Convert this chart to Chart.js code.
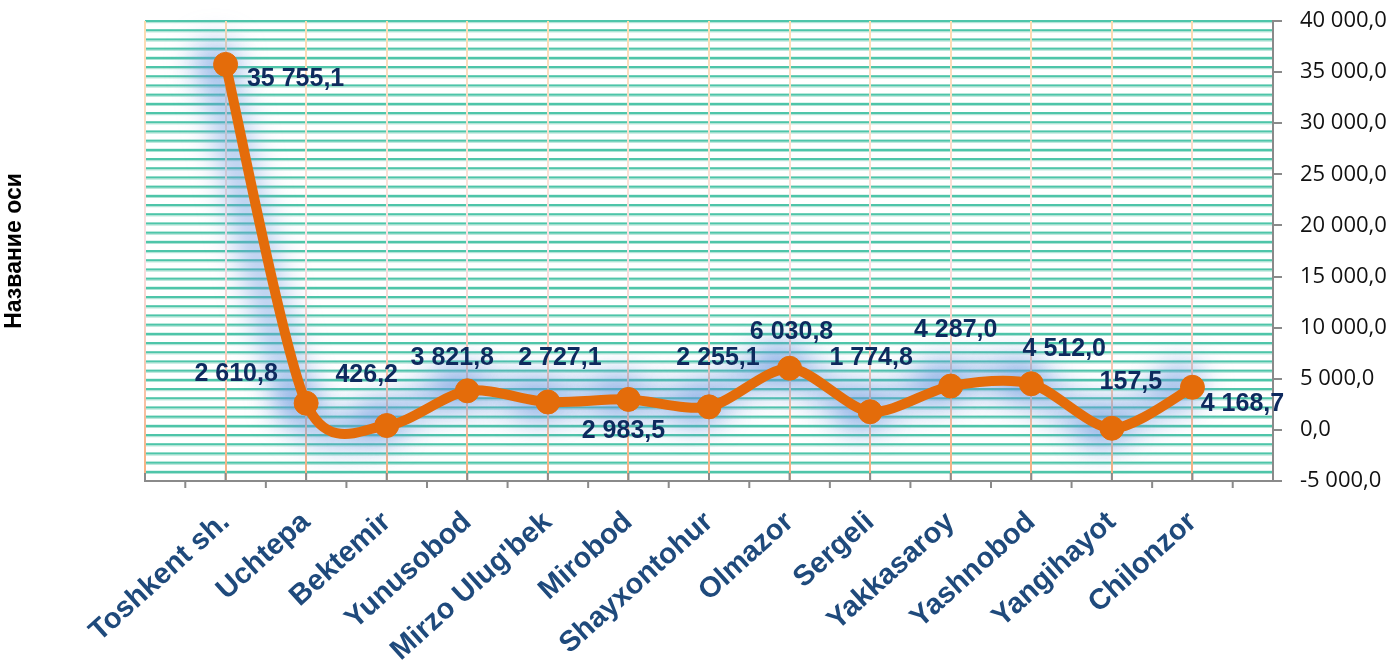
<!DOCTYPE html>
<html>
<head>
<meta charset="utf-8">
<script src="https://cdn.jsdelivr.net/npm/chart.js@4.4.0/dist/chart.umd.min.js"></script>
<style>
    html, body { margin: 0; padding: 0; background: #fff; }
    #wrap { width: 1394px; height: 661px; }
</style>
</head>
<body>
<div id="wrap"><canvas id="chart" width="1394" height="661"></canvas></div>
<script>
(function () {
    'use strict';

    // empty slot at each end, as on the original category axis
    var districts = ['', 'Toshkent sh.', 'Uchtepa', 'Bektemir', 'Yunusobod', "Mirzo Ulug'bek", 'Mirobod',
        'Shayxontohur', 'Olmazor', 'Sergeli', 'Yakkasaroy', 'Yashnobod', 'Yangihayot', 'Chilonzor', ''];
    var values = [null, 35755.1, 2610.8, 426.2, 3821.8, 2727.1, 2983.5,
        2255.1, 6030.8, 1774.8, 4287.0, 4512.0, 157.5, 4168.7, null];
    var yMin = -5000;
    var yMax = 40000;
    var yStep = 5000;
    var axisTitle = 'Название оси';

    // where each value label sits relative to its point (px)
    var labelShift = [null, [70, 15], [-70, -29], [-20, -50], [-15, -33], [12, -44], [-5, 32],
        [9, -49], [2, -36], [1, -54], [5, -56], [33, -35], [19, -46], [50, 17], null];

    function fmt(v) {
        var parts = Math.abs(v).toFixed(1).split('.');
        var whole = parts[0].replace(/\B(?=(\d{3})+(?!\d))/g, ' ');
        return (v < 0 ? '-' : '') + whole + ',' + parts[1];
    }

    function gridGradient(chart) {
        var a = chart.chartArea;
        if (!a) {
            return '#f9c9a0';
        }
        var g = chart.ctx.createLinearGradient(0, a.top, 0, a.bottom);
        g.addColorStop(0, '#fcdcb0');
        g.addColorStop(0.5, '#fbe0e6');
        g.addColorStop(1, '#f6b07f');
        return g;
    }

    // excel-like smoothing: catmull-rom style control points
    function smooth(meta) {
        var k = 0.14;
        var pts = meta.data.filter(function (p) { return !p.skip; });
        pts.forEach(function (p, i) {
            var prev = pts[i - 1] || p;
            var next = pts[i + 1] || p;
            var dx = (next.x - prev.x) * k;
            var dy = (next.y - prev.y) * k;
            p.cp1x = p.x - dx;
            p.cp1y = p.y - dy;
            p.cp2x = p.x + dx;
            p.cp2y = p.y + dy;
        });
    }

    var decor = {
        id: 'decor',
        beforeDraw: function (chart) {
            var ctx = chart.ctx;
            var a = chart.chartArea;
            var step = (a.bottom - a.top) / 50;
            ctx.save();
            for (var i = 0; i < 50; i++) {
                var y = a.top + i * step;
                ctx.fillStyle = '#4ec5a9';
                ctx.fillRect(a.left, y - 1, a.right - a.left, 2.2);
                ctx.fillStyle = '#aee3d5';
                ctx.fillRect(a.left, y + 1.2, a.right - a.left, 1);
            }
            ctx.restore();
        },
        beforeDatasetsDraw: function (chart) {
            var ctx = chart.ctx;
            var xs = chart.scales.x;
            var bottom = chart.chartArea.bottom;
            ctx.save();
            ctx.strokeStyle = '#8a8a8a';
            ctx.lineWidth = 2;
            ctx.beginPath();
            for (var i = 0; i < districts.length; i++) {
                var x = xs.getPixelForValue(i);
                ctx.moveTo(x, bottom - 8);
                ctx.lineTo(x, bottom);
                if (i < districts.length - 1) {
                    var mid = (x + xs.getPixelForValue(i + 1)) / 2;
                    ctx.moveTo(mid, bottom);
                    ctx.lineTo(mid, bottom + 7);
                }
            }
            ctx.stroke();
            ctx.restore();

            chart.data.datasets.forEach(function (ds, i) {
                var meta = chart.getDatasetMeta(i);
                meta.dataset.updateControlPoints(chart.chartArea, 'x');
                smooth(meta);
            });
        },
        beforeDatasetDraw: function (chart, args) {
            if (args.index === 1) {
                var ctx = chart.ctx;
                ctx.save();
                ctx.filter = 'blur(15px)';
                ctx.translate(-10, -3);
            }
        },
        afterDatasetDraw: function (chart, args) {
            if (args.index === 1) {
                chart.ctx.restore();
            }
        },
        afterDatasetsDraw: function (chart) {
            var ctx = chart.ctx;
            var meta = chart.getDatasetMeta(0);
            ctx.save();
            ctx.font = 'bold 25px "Liberation Sans", Arial, sans-serif';
            ctx.fillStyle = '#0e2a5e';
            ctx.textAlign = 'center';
            ctx.textBaseline = 'middle';
            meta.data.forEach(function (pt, i) {
                if (values[i] === null) {
                    return;
                }
                var s = labelShift[i];
                ctx.fillText(fmt(values[i]), pt.x + s[0], pt.y + s[1]);
            });
            ctx.restore();

            var a = chart.chartArea;
            ctx.save();
            ctx.translate(15, (a.top + a.bottom) / 2);
            ctx.rotate(-Math.PI / 2);
            ctx.font = 'bold 23px "Liberation Sans", Arial, sans-serif';
            ctx.fillStyle = '#000';
            ctx.textAlign = 'center';
            ctx.textBaseline = 'middle';
            ctx.fillText(axisTitle, 0, 0);
            ctx.restore();
        }
    };

    new Chart(document.getElementById('chart'), {
        type: 'line',
        data: {
            labels: districts,
            datasets: [
                {
                    label: 'Value',
                    data: values,
                    borderColor: '#e46c0a',
                    backgroundColor: '#e46c0a',
                    borderWidth: 10,
                    tension: 0.4,
                    pointRadius: 12,
                    pointBorderWidth: 1,
                    pointBackgroundColor: '#e46c0a',
                    pointBorderColor: '#e46c0a',
                    clip: false
                },
                {
                    // soft blue glow behind the line
                    label: 'glow',
                    data: values,
                    borderColor: 'rgba(100, 150, 220, 0.55)',
                    backgroundColor: 'rgba(100, 150, 220, 0.55)',
                    borderWidth: 32,
                    tension: 0.4,
                    pointRadius: 21,
                    pointBorderWidth: 0,
                    clip: false
                }
            ]
        },
        options: {
            responsive: false,
            animation: false,
            layout: { padding: { left: 145, top: 21, right: 0, bottom: 0 } },
            plugins: {
                legend: { display: false },
                tooltip: { enabled: false }
            },
            scales: {
                x: {
                    type: 'category',
                    offset: false,
                    grid: {
                        color: function (c) { return gridGradient(c.chart); },
                        lineWidth: 2,
                        drawTicks: false
                    },
                    border: { display: true, color: '#8a8a8a', width: 2 },
                    ticks: {
                        autoSkip: false,
                        minRotation: 42,
                        maxRotation: 42,
                        padding: 24,
                        color: '#1f4a7c',
                        font: { family: '"Liberation Sans", Arial, sans-serif', size: 29, weight: 'bold' }
                    },
                    afterFit: function (s) { s.height = 180; }
                },
                y: {
                    position: 'right',
                    min: yMin,
                    max: yMax,
                    ticks: {
                        stepSize: yStep,
                        padding: 18,
                        color: '#111',
                        font: { family: '"Open Sans", sans-serif', size: 22 },
                        callback: function (v) { return fmt(v); }
                    },
                    grid: {
                        drawOnChartArea: false,
                        drawTicks: true,
                        tickLength: 9,
                        color: '#8a8a8a',
                        lineWidth: 2
                    },
                    border: { color: '#8a8a8a', width: 2 },
                    afterFit: function (s) {
                        s.width = 121;
                        s.paddingTop = 0;
                        s.paddingBottom = 0;
                    }
                }
            }
        },
        plugins: [decor]
    });
})();
</script>
</body>
</html>
